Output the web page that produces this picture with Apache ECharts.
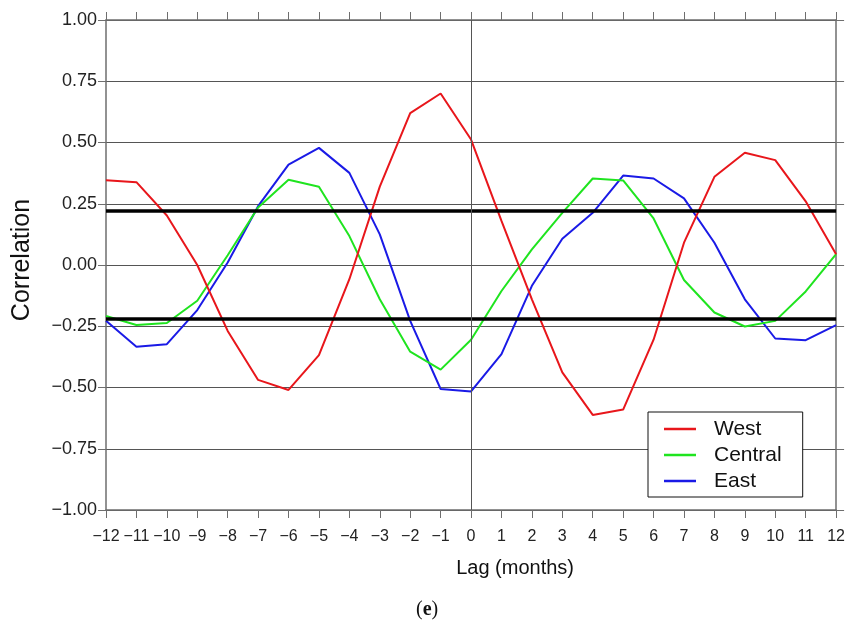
<!DOCTYPE html>
<html>
<head>
<meta charset="utf-8">
<script src="https://cdn.jsdelivr.net/npm/echarts@6/dist/echarts.min.js"></script>
<style>html,body{margin:0;padding:0;background:#fff;}#c{width:848px;height:621px;}</style>
</head>
<body>
<div id="c"></div>
<script>
const lags = [-12,-11,-10,-9,-8,-7,-6,-5,-4,-3,-2,-1,0,1,2,3,4,5,6,7,8,9,10,11,12];
const west = [0.346,0.338,0.202,0.00,-0.269,-0.469,-0.510,-0.368,-0.058,0.32,0.62,0.70,0.512,0.18,-0.14,-0.438,-0.612,-0.59,-0.305,0.091,0.36,0.458,0.428,0.26,0.044];
const central = [-0.208,-0.245,-0.237,-0.146,0.04,0.235,0.348,0.319,0.118,-0.14,-0.354,-0.427,-0.305,-0.106,0.064,0.213,0.353,0.345,0.19,-0.061,-0.194,-0.251,-0.228,-0.108,0.044];
const east = [-0.228,-0.334,-0.323,-0.184,0.01,0.24,0.41,0.478,0.376,0.125,-0.228,-0.506,-0.516,-0.364,-0.085,0.107,0.213,0.365,0.353,0.272,0.091,-0.14,-0.30,-0.307,-0.245];
const thresholds = [0.22, -0.22];
const yTicks = [-1.00,-0.75,-0.50,-0.25,0.00,0.25,0.50,0.75,1.00];

const FONT = '"Liberation Sans", Arial, sans-serif';
const minus = s => String(s).replace('-', '\u2212');
const pair = arr => lags.map((l, i) => [l, arr[i]]);
const axisGray = '#6e6e6e';

const chart = echarts.init(document.getElementById('c'), null, {renderer: 'canvas'});
chart.setOption({
  animation: false,
  backgroundColor: '#fff',
  grid: {left: 106, right: 11, top: 20, bottom: 111},
  legend: {
    orient: 'vertical', left: 648, top: 412,
    data: ['West', 'Central', 'East'],
    icon: 'rect',
    backgroundColor: '#fff',
    borderColor: '#111', borderWidth: 1,
    padding: [4, 21, 3, 16],
    itemWidth: 32, itemHeight: 2.5, itemGap: 0,
    textStyle: {fontFamily: FONT, fontSize: 21, color: '#111', lineHeight: 26, padding: [0, 0, 0, 13]}
  },
  xAxis: [{
    type: 'value', min: -12, max: 12, interval: 1, position: 'bottom',
    axisLine: {show: true, onZero: false, lineStyle: {color: axisGray, width: 1.5}},
    axisTick: {show: true, inside: false, length: 8, lineStyle: {color: axisGray}},
    axisLabel: {fontFamily: FONT, fontSize: 16, color: '#222', margin: 19, interval: 0, formatter: v => minus(v)},
    splitLine: {show: false},
    name: 'Lag (months)', nameLocation: 'middle', nameGap: 48,
    nameTextStyle: {fontFamily: FONT, fontSize: 20, color: '#111', padding: [0, 0, 0, 88]}
  }, {
    type: 'value', min: -12, max: 12, interval: 1, position: 'top',
    axisLine: {show: true, onZero: false, lineStyle: {color: axisGray, width: 1.5}},
    axisTick: {show: true, inside: false, length: 8, lineStyle: {color: axisGray}},
    axisLabel: {show: false}, splitLine: {show: false}
  }],
  yAxis: [{
    type: 'value', min: -1, max: 1, interval: 0.25, position: 'left',
    axisLine: {show: true, onZero: false, lineStyle: {color: axisGray, width: 1.5}},
    axisTick: {show: true, inside: false, length: 8, lineStyle: {color: axisGray}},
    axisLabel: {fontFamily: FONT, fontSize: 18, color: '#222', margin: 9, formatter: v => minus(v.toFixed(2))},
    splitLine: {show: true, lineStyle: {color: '#555', width: 1}},
    name: 'Correlation', nameLocation: 'middle', nameGap: 71, nameRotate: 90,
    nameTextStyle: {fontFamily: FONT, fontSize: 25, color: '#111', padding: [0, 0, 0, 10]}
  }, {
    type: 'value', min: -1, max: 1, interval: 0.25, position: 'right',
    axisLine: {show: true, onZero: false, lineStyle: {color: axisGray, width: 1.5}},
    axisTick: {show: true, inside: false, length: 8, lineStyle: {color: axisGray}},
    axisLabel: {show: false}, splitLine: {show: false}
  }],
  series: [{
    name: 'East', type: 'line', data: pair(east), symbol: 'none',
    lineStyle: {color: '#1a1ae6', width: 2}, itemStyle: {color: '#1a1ae6'}, z: 3,
    markLine: {
      silent: true, symbol: 'none', label: {show: false},
      data: [
        ...thresholds.map(t => ({yAxis: t, lineStyle: {color: '#000', width: 3.5, type: 'solid'}})),
        {xAxis: 0, lineStyle: {color: '#555', width: 1, type: 'solid'}}
      ]
    }
  }, {
    name: 'Central', type: 'line', data: pair(central), symbol: 'none',
    lineStyle: {color: '#1fe41f', width: 2}, itemStyle: {color: '#1fe41f'}, z: 3
  }, {
    name: 'West', type: 'line', data: pair(west), symbol: 'none',
    lineStyle: {color: '#e8161b', width: 2}, itemStyle: {color: '#e8161b'}, z: 3
  }],
  graphic: [{
    type: 'text', left: 416, top: 600,
    style: {
      text: '({b|e})',
      fontFamily: '"Liberation Serif", serif', fontSize: 20, fill: '#111',
      rich: {b: {fontFamily: '"Liberation Serif", serif', fontSize: 20, fontWeight: 'bold'}}
    }
  }]
});
</script>
</body>
</html>
